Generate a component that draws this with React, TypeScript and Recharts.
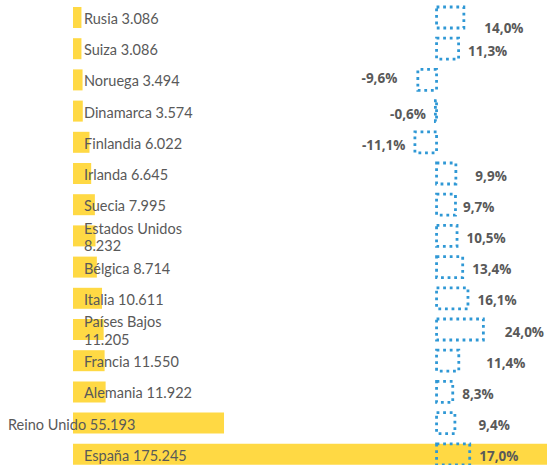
import React from 'react';
import { BarChart, Bar, XAxis, YAxis, LabelList } from 'recharts';

const countries = ['Rusia', 'Suiza', 'Noruega', 'Dinamarca', 'Finlandia', 'Irlanda', 'Suecia', 'Estados Unidos', 'Bélgica', 'Italia', 'Países Bajos', 'Francia', 'Alemania', 'Reino Unido', 'España'];
const visitors = [3086, 3086, 3494, 3574, 6022, 6645, 7995, 8232, 8714, 10611, 11205, 11550, 11922, 55193, 175245];
const change = [14.0, 11.3, -9.6, -0.6, -11.1, 9.9, 9.7, 10.5, 13.4, 16.1, 24.0, 11.4, 8.3, 9.4, 17.0];

// label placement tweaks (as in the original, labels were nudged by hand)
const nameLabelShift = [0, 0, 0, 0, 0, 0, 0, 0, 0, 0, 0, 0, 0, -76, 0];
const pctLabelNudge: [number, number][] = [
  [11, 9], [0, 1], [11, -3], [0, 2], [0, 2], [10, 1], [-2, 1], [0, 1], [0, 1], [0, 1], [12, 1], [18, 1], [0, 1], [14, 1], [0, 1],
];

const data = countries.map((c, i) => ({ name: c, visitors: visitors[i], change: change[i] }));

const TEXT = '#595959';
const YELLOW = '#FFD944';
const BLUE = '#2F98D5';

const fmtThousands = (n: number) => String(n).replace(/\B(?=(\d{3})+(?!\d))/g, '.');
const fmtPct = (n: number) => n.toFixed(1).replace('.', ',') + '%';

function getBox(props: any) {
  const vb = props.viewBox ?? props;
  return { x: Number(vb.x ?? props.x), y: Number(vb.y ?? props.y), width: Number(vb.width ?? props.width), height: Number(vb.height ?? props.height) };
}

function NameLabel(props: any) {
  const i = countries.indexOf(props.value);
  if (i < 0) return null;
  const { x, y, height } = getBox(props);
  const full = `${countries[i]} ${fmtThousands(visitors[i])}`;
  const lines = full.length > 18 ? [countries[i], fmtThousands(visitors[i])] : [full];
  const lh = 17.5;
  const tx = x + 11 + nameLabelShift[i];
  const cy = y + height / 2 + 0.5;
  return (
    <text x={tx} y={cy - ((lines.length - 1) * lh) / 2} fill={TEXT} fontFamily="Lato, sans-serif" fontSize={14.5} dominantBaseline="central">
      {lines.map((l, k) => (
        <tspan key={k} x={tx} dy={k === 0 ? 0 : lh}>{l}</tspan>
      ))}
    </text>
  );
}

function PctLabel(props: any) {
  const i = countries.indexOf(props.value);
  if (i < 0) return null;
  const { x, y, width, height } = getBox(props);
  const left = Math.min(x, x + width);
  const right = Math.max(x, x + width);
  const v = change[i];
  const [ndx, ndy] = pctLabelNudge[i];
  const cy = y + height / 2 + 1 + ndy;
  const pos = v >= 0;
  return (
    <text
      x={pos ? right + 9.5 + ndx : left - 9.5 - ndx}
      y={cy}
      textAnchor={pos ? 'start' : 'end'}
      dominantBaseline="central"
      fill={TEXT}
      fontFamily="'Open Sans', sans-serif"
      fontWeight={700}
      fontSize={13.5}
    >
      {fmtPct(v)}
    </text>
  );
}

export default function App() {
  return (
    <div style={{ position: 'absolute', left: 0, top: 0, width: 547, height: 465, overflow: 'hidden', background: '#fff' }}>
      <BarChart width={600} height={470} data={data} layout="vertical" margin={{ top: 2, right: 0, bottom: 0, left: 73 }}>
        <XAxis xAxisId="v" type="number" domain={[0, 192600]} hide />
        <XAxis xAxisId="p" type="number" domain={[-186.4, 83.8]} hide />
        <YAxis yAxisId="a" type="category" dataKey="name" hide />
        <YAxis yAxisId="b" type="category" dataKey="name" hide />
        <Bar dataKey="visitors" xAxisId="v" yAxisId="a" fill={YELLOW} barSize={21} isAnimationActive={false}>
          <LabelList dataKey="name" content={NameLabel} />
        </Bar>
        <Bar
          dataKey="change"
          xAxisId="p"
          yAxisId="b"
          fill="none"
          stroke={BLUE}
          strokeWidth={2.8}
          strokeDasharray="2.8 3.8"
          barSize={21}
          isAnimationActive={false}
        >
          <LabelList dataKey="name" content={PctLabel} />
        </Bar>
      </BarChart>
    </div>
  );
}
